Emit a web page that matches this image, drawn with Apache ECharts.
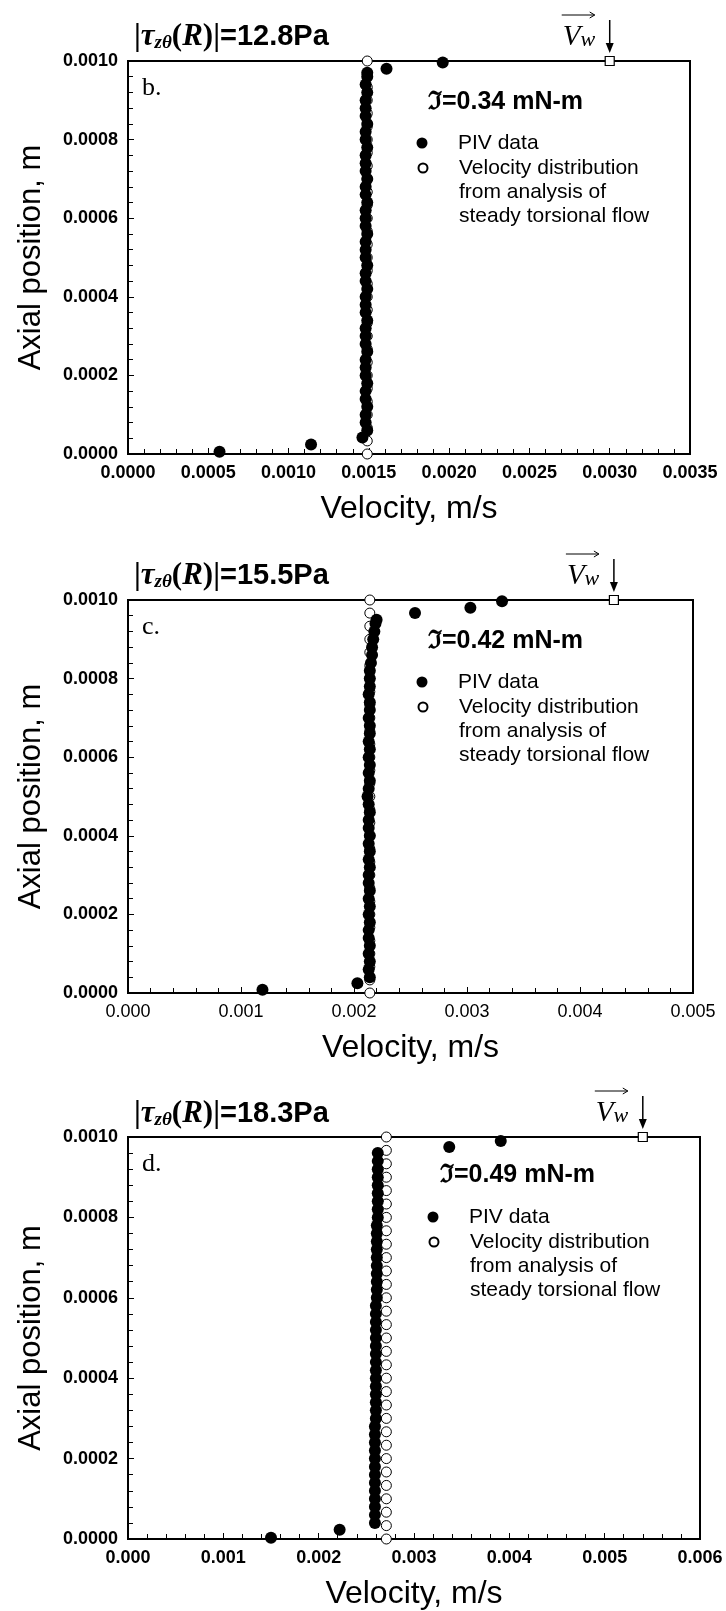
<!DOCTYPE html>
<html><head><meta charset="utf-8">
<script src="https://cdn.jsdelivr.net/npm/echarts@6/dist/echarts.min.js"></script>
<style>html,body{margin:0;padding:0;background:#fff}#c{width:726px;height:1611px}</style>
</head><body><div id="c"></div>
<script>
// ---------------- DATA ----------------
const panelLetters = ['b.', 'c.', 'd.'];
const shearStress = ['12.8', '15.5', '18.3'];           // Pa
const torqueLabels = ['0.34', '0.42', '0.49'];          // mN-m
const xMaxes = [0.0035, 0.005, 0.006];
const xSteps = [0.0005, 0.001, 0.001];
const xDigits = [4, 3, 3];
const yTicks = [0, 0.0002, 0.0004, 0.0006, 0.0008, 0.0010];

// analysis grid (axial positions of the steady-torsional-flow solution)
const zGrid = [0,0.0000333,0.0000667,0.0001,0.0001333,0.0001667,0.0002,0.0002333,0.0002667,0.0003,
  0.0003333,0.0003667,0.0004,0.0004333,0.0004667,0.0005,0.0005333,0.0005667,0.0006,0.0006333,
  0.0006667,0.0007,0.0007333,0.0007667,0.0008,0.0008333,0.0008667,0.0009,0.0009333,0.0009667,0.001];
const theoryVelocity = [0.00149, 0.00214, 0.00271];     // m/s, constant over z
const wallVelocity = [0.0030, 0.0043, 0.0054];          // m/s at z = 0.001

// PIV data [velocity, axial position]
const pivB = [[0.00057,0.000006],[0.00114,0.000024],[0.00146,0.000042],
 [0.00149,0.00006],[0.00148,0.00008],[0.00148,0.0001],[0.00149,0.00012],[0.00148,0.00014],
 [0.00148,0.00016],[0.00149,0.00018],[0.00148,0.0002],[0.00148,0.00022],[0.00148,0.00024],
 [0.00149,0.00026],[0.00148,0.00028],[0.00148,0.0003],[0.00148,0.00032],[0.00149,0.00034],
 [0.00148,0.00036],[0.00148,0.00038],[0.00148,0.0004],[0.00149,0.00042],[0.00148,0.00044],
 [0.00148,0.00046],[0.00149,0.00048],[0.00148,0.0005],[0.00148,0.00052],[0.00148,0.00054],
 [0.00149,0.00056],[0.00148,0.00058],[0.00148,0.0006],[0.00148,0.00062],[0.00149,0.00064],
 [0.00148,0.00066],[0.00148,0.00068],[0.00149,0.0007],[0.00148,0.00072],[0.00148,0.00074],
 [0.00148,0.00076],[0.00149,0.00078],[0.00148,0.0008],[0.00148,0.00082],[0.00149,0.00084],
 [0.00148,0.00086],[0.00148,0.00088],[0.00148,0.0009],[0.00149,0.00092],[0.00148,0.00094],
 [0.00149,0.00096],[0.00149,0.00097],
 [0.00161,0.00098],[0.00196,0.000996]];
const pivC = [[0.00119,0.000008],[0.00203,0.000025],
 [0.00214,0.00004],[0.00213,0.00006],[0.00214,0.00008],[0.00213,0.0001],[0.00214,0.00012],
 [0.00213,0.00014],[0.00213,0.00016],[0.00214,0.00018],[0.00213,0.0002],[0.00214,0.00022],
 [0.00213,0.00024],[0.00214,0.00026],[0.00213,0.00028],[0.00213,0.0003],[0.00214,0.00032],
 [0.00213,0.00034],[0.00214,0.00036],[0.00213,0.00038],[0.00214,0.0004],[0.00213,0.00042],
 [0.00213,0.00044],[0.00214,0.00046],[0.00213,0.00048],[0.00212,0.0005],[0.00213,0.00052],
 [0.00214,0.00054],[0.00213,0.00056],[0.00214,0.00058],[0.00213,0.0006],[0.00214,0.00062],
 [0.00213,0.00064],[0.00214,0.00066],[0.00214,0.00068],[0.00213,0.0007],[0.00214,0.00072],
 [0.00214,0.00074],[0.00213,0.00076],[0.00214,0.00078],[0.00214,0.0008],[0.00214,0.00082],
 [0.00215,0.00084],[0.00216,0.00086],[0.00216,0.00088],[0.00217,0.0009],[0.00218,0.00092],
 [0.00219,0.00094],[0.0022,0.00095],
 [0.00254,0.000967],[0.00303,0.00098],[0.00331,0.000997]];
const pivD = [[0.0015,0.000003],[0.00222,0.000023],
 [0.00259,0.00004],[0.00259,0.00006],[0.00259,0.00008],[0.00259,0.0001],[0.00259,0.00012],
 [0.00259,0.00014],[0.00259,0.00016],[0.00259,0.00018],[0.00259,0.0002],[0.00259,0.00022],
 [0.00259,0.00024],[0.00259,0.00026],[0.00259,0.00028],[0.0026,0.0003],[0.0026,0.00032],
 [0.0026,0.00034],[0.0026,0.00036],[0.0026,0.00038],[0.0026,0.0004],[0.0026,0.00042],
 [0.0026,0.00044],[0.0026,0.00046],[0.0026,0.00048],[0.0026,0.0005],[0.0026,0.00052],
 [0.0026,0.00054],[0.0026,0.00056],[0.0026,0.00058],[0.00261,0.0006],[0.00261,0.00062],
 [0.00261,0.00064],[0.00261,0.00066],[0.00261,0.00068],[0.00261,0.0007],[0.00261,0.00072],
 [0.00261,0.00074],[0.00261,0.00076],[0.00261,0.00078],[0.00262,0.0008],[0.00262,0.00082],
 [0.00262,0.00084],[0.00262,0.00086],[0.00262,0.00088],[0.00262,0.0009],[0.00262,0.00092],
 [0.00262,0.00094],[0.00262,0.00096],
 [0.00337,0.000975],[0.00391,0.00099]];
const pivSets = [pivB, pivC, pivD];

const legendPIV = 'PIV data';
const legendTheory = 'Velocity distribution\nfrom analysis of\nsteady torsional flow';

// ---------------- LAYOUT ----------------
const L = [
  {left:128, top:61,   width:562, height:393, legX:416.5, fracX:428, xBold:'bold',   fracDy:41, legDy:82, titleDy:-40},
  {left:128, top:600,  width:565, height:393, legX:416.5, fracX:428, xBold:'normal', fracDy:41, legDy:82, titleDy:-40},
  {left:128, top:1137, width:572, height:403, legX:427.5, fracX:440, xBold:'bold',   fracDy:38, legDy:80, titleDy:-39}
];
const SANS = '"Liberation Sans", Arial, sans-serif';
const SERIF = '"Liberation Serif", "DejaVu Serif", serif';

const chart = echarts.init(document.getElementById('c'), null, {renderer:'canvas'});

const grids = [], xAxes = [], yAxes = [], series = [], titles = [], legends = [];
L.forEach((g, i) => {
  grids.push({left:g.left, top:g.top, width:g.width, height:g.height, show:true,
    borderColor:'#000', borderWidth:2, backgroundColor:'transparent'});
  xAxes.push({type:'value', gridIndex:i, min:0, max:xMaxes[i], interval:xSteps[i],
    name:'Velocity, m/s', nameLocation:'middle', nameGap:39,
    nameTextStyle:{fontFamily:SANS, fontSize:32, color:'#000'},
    axisLine:{show:true, onZero:false, lineStyle:{color:'#000', width:2}},
    axisTick:{show:true, inside:true, length:6, lineStyle:{color:'#000', width:1}},
    minorTick:{show:true, splitNumber:5, length:5, lineStyle:{color:'#000', width:1}},
    splitLine:{show:false},
    axisLabel:{margin:10, fontFamily:SANS, fontSize:18, fontWeight:g.xBold, color:'#000',
      formatter:v => v.toFixed(xDigits[i])}
  });
  yAxes.push({type:'value', gridIndex:i, min:yTicks[0], max:yTicks[yTicks.length-1], interval:0.0002,
    name:'Axial position, m', nameLocation:'middle', nameGap:81, nameRotate:90,
    nameTextStyle:{fontFamily:SANS, fontSize:31, color:'#000'},
    axisLine:{show:true, onZero:false, lineStyle:{color:'#000', width:2}},
    axisTick:{show:true, inside:true, length:6, lineStyle:{color:'#000', width:1}},
    minorTick:{show:true, splitNumber:5, length:5, lineStyle:{color:'#000', width:1}},
    splitLine:{show:false},
    axisLabel:{margin:10, fontFamily:SANS, fontSize:18, fontWeight:'bold', color:'#000',
      formatter:v => v.toFixed(4)}
  });
  series.push({type:'scatter', name:legendTheory, xAxisIndex:i, yAxisIndex:i, clip:false, z:2,
    symbol:'circle', symbolSize:10,
    itemStyle:{color:'#fff', borderColor:'#000', borderWidth:1, opacity:1},
    data: zGrid.map(z => [theoryVelocity[i], z])});
  series.push({type:'scatter', name:legendPIV, xAxisIndex:i, yAxisIndex:i, clip:false, z:3,
    symbol:'circle', symbolSize:12, itemStyle:{color:'#000', opacity:1},
    data: pivSets[i]});
  series.push({type:'scatter', name:'Wall velocity', xAxisIndex:i, yAxisIndex:i, clip:false, z:4,
    symbol:'rect', symbolSize:9,
    itemStyle:{color:'#fff', borderColor:'#000', borderWidth:1.2, opacity:1},
    data: [[wallVelocity[i], 0.001]]});
  titles.push({left:134, top:g.top + g.titleDy, padding:0,
    text:'{a||}{t|τ}{s|zθ}{a|(}{r|R}{a|)|}{b|=' + shearStress[i] + 'Pa}',
    textStyle:{rich:{
      a:{fontFamily:SERIF, fontSize:31, color:'#000', lineHeight:32},
      t:{fontFamily:SERIF, fontSize:31, fontStyle:'italic', fontWeight:'bold', color:'#000', lineHeight:32},
      s:{fontFamily:SERIF, fontSize:19, fontStyle:'italic', fontWeight:'bold', color:'#000', lineHeight:32, verticalAlign:'bottom'},
      r:{fontFamily:SERIF, fontSize:31, fontStyle:'italic', fontWeight:'bold', color:'#000', lineHeight:32},
      b:{fontFamily:SANS, fontSize:29, fontWeight:'bold', color:'#000', lineHeight:32}
    }}
  });
  legends.push({data:[legendPIV], orient:'vertical', left:g.legX, top:g.top + g.legDy - 12, padding:0,
    itemWidth:11, itemHeight:11, icon:'circle', selectedMode:false,
    textStyle:{fontFamily:SANS, fontSize:21, color:'#000', lineHeight:24, padding:[0,0,0,25.5]}});
  // two blank lines keep the first text line level with the open-circle icon
  legends.push({data:[legendTheory], orient:'vertical', left:g.legX + 1, top:g.top + g.legDy + 25 - 60, padding:0,
    itemWidth:9, itemHeight:9, icon:'circle', selectedMode:false,
    formatter: name => '\n\n' + name,
    textStyle:{fontFamily:SANS, fontSize:21, color:'#000', lineHeight:24, padding:[0,0,0,26.5]}});
});

chart.setOption({
  animation:false, backgroundColor:'#fff',
  title:titles, legend:legends, grid:grids, xAxis:xAxes, yAxis:yAxes, series:series
});

// annotations placed from the library's own scales
const els = [];
L.forEach((g, i) => {
  els.push({type:'text', x:g.left + 14, y:g.top + 27,
    style:{text:panelLetters[i], font:'26px ' + SERIF, fill:'#000', verticalAlign:'middle', textVerticalAlign:'middle'}});
  els.push({type:'text', x:g.fracX, y:g.top + g.fracDy,
    style:{text:'ℑ=' + torqueLabels[i] + ' mN-m', font:'bold 25px ' + SANS, fill:'#000', verticalAlign:'middle', textVerticalAlign:'middle'}});
  const p = chart.convertToPixel({gridIndex:i}, [wallVelocity[i], 0.001]);
  const cx = p[0], cy = p[1];
  // V_w label with over-arrow
  els.push({type:'text', x:cx - 47, y:cy - 24,
    style:{text:'{v|V}{w|w}', verticalAlign:'middle', textVerticalAlign:'middle',
      rich:{v:{fontFamily:SERIF, fontSize:29, fontStyle:'italic', fill:'#000', lineHeight:28},
            w:{fontFamily:SERIF, fontSize:22, fontStyle:'italic', fill:'#000', lineHeight:28, verticalAlign:'bottom'}}}});
  els.push({type:'line', shape:{x1:cx - 48, y1:cy - 46, x2:cx - 15, y2:cy - 46}, style:{stroke:'#000', lineWidth:1}});
  els.push({type:'polyline', shape:{points:[[cx - 20, cy - 49],[cx - 15, cy - 46],[cx - 20, cy - 43]]}, style:{stroke:'#000', lineWidth:1, fill:null}});
  // down arrow to wall velocity
  els.push({type:'line', shape:{x1:cx, y1:cy - 41, x2:cx, y2:cy - 17}, style:{stroke:'#000', lineWidth:1.5}});
  els.push({type:'polygon', shape:{points:[[cx - 4, cy - 18],[cx + 4, cy - 18],[cx, cy - 8]]}, style:{fill:'#000'}});
});
chart.setOption({graphic:{elements:els}});
</script>
</body></html>
